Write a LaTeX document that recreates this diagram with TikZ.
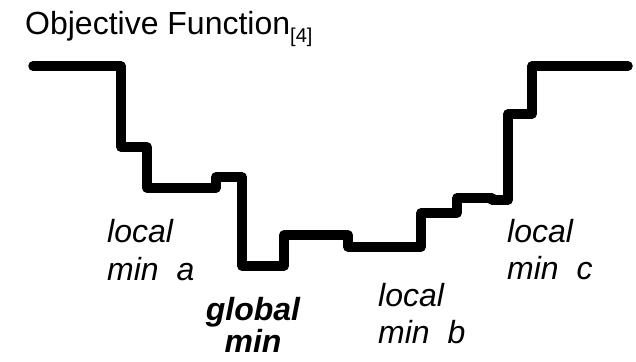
\documentclass[tikz,border=0pt]{standalone}
\usepackage{fontspec}
\setmainfont{Liberation Sans}
\begin{document}
\begin{tikzpicture}[x=1pt,y=-1pt,
  curve/.style={line width=9.5pt,line join=round,line cap=round},
  lbl/.style={inner sep=0pt,anchor=base west,font=\fontsize{32}{38}\selectfont\itshape},
  glbl/.style={inner sep=0pt,anchor=base,font=\fontsize{32}{38}\selectfont\bfseries\itshape}]
\useasboundingbox (0,0) rectangle (636,361);
\draw[curve] (33,66) -- (121,66) -- (121,147) -- (147,147) -- (147,188) -- (216,188)
  -- (216,177) -- (242,177) -- (242,266) -- (284,266) -- (284,235) -- (348,235)
  -- (348,247) -- (421,247) -- (421,213) -- (457,213) -- (457,198) -- (492,198)
  -- (492,200) -- (508,200) -- (508,114) -- (532,114) -- (532,66) -- (628,66);
\node[inner sep=0pt,anchor=base west,font=\fontsize{32}{38}\selectfont] (title) at (25,35)
  {Objective Function\raisebox{-8pt}{\fontsize{20}{22}\selectfont[4]}};
\node[lbl] (a1) at (107,242) {local};
\node[lbl] (a2) at (107,280) {min\ \ a};
\node[glbl] (g1) at (253,320) {global};
\node[glbl] (g2) at (253,352) {min};
\node[lbl] (b1) at (378,306) {local};
\node[lbl] (b2) at (378,343) {min\ \ b};
\node[lbl] (c1) at (507,242) {local};
\node[lbl] (c2) at (507,279) {min\ \ c};
\end{tikzpicture}
\end{document}
